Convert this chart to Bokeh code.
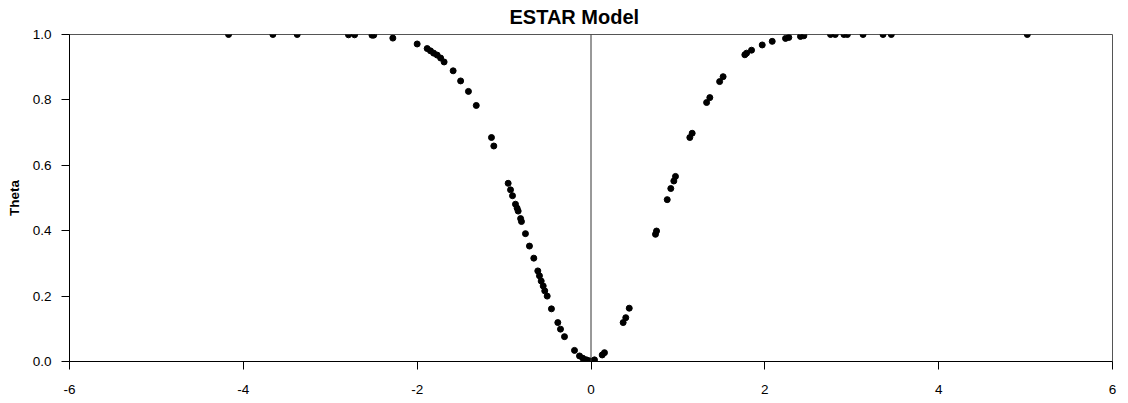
from bokeh.plotting import figure
from bokeh.models import Range1d, Span, FixedTicker, ColumnDataSource, CustomJSTickFormatter
from bokeh.embed import file_html
from bokeh.resources import INLINE

# Data (transition variable vs. Theta)
x_vals = [-4.17, -3.66, -3.38, -2.79, -2.72, -2.52, -2.50, -2.28, -2.00, -1.885,
          -1.847, -1.81, -1.77, -1.73, -1.69, -1.586, -1.50, -1.41, -1.32, -1.145,
          -1.118, -0.953, -0.926, -0.903, -0.869, -0.85, -0.838, -0.81, -0.80, -0.754,
          -0.708, -0.658, -0.612, -0.593, -0.573, -0.55, -0.532, -0.504, -0.455, -0.382,
          -0.351, -0.305, -0.19, -0.132, -0.094, -0.052, -0.017, 0.04, 0.129, 0.155,
          0.37, 0.40, 0.44, 0.742, 0.754, 0.877, 0.918, 0.953, 0.972, 1.137,
          1.164, 1.33, 1.367, 1.48, 1.52, 1.77, 1.79, 1.847, 1.97, 2.085,
          2.238, 2.276, 2.41, 2.449, 2.756, 2.81, 2.91, 2.95, 3.13, 3.36,
          3.455, 5.02]
theta_vals = [1.0, 1.0, 1.0, 0.999, 0.999, 0.998, 0.998, 0.989, 0.971, 0.957,
              0.950, 0.943, 0.937, 0.928, 0.916, 0.889, 0.858, 0.826, 0.783, 0.685,
              0.659, 0.545, 0.525, 0.507, 0.481, 0.469, 0.460, 0.437, 0.428, 0.391,
              0.353, 0.316, 0.277, 0.262, 0.246, 0.231, 0.216, 0.200, 0.161, 0.119,
              0.099, 0.076, 0.034, 0.017, 0.010, 0.005, 0.002, 0.005, 0.020, 0.027,
              0.119, 0.134, 0.163, 0.389, 0.399, 0.495, 0.529, 0.552, 0.566, 0.685,
              0.698, 0.792, 0.807, 0.856, 0.871, 0.938, 0.943, 0.952, 0.968, 0.979,
              0.988, 0.991, 0.994, 0.996, 1.0, 1.0, 1.0, 1.0, 1.0, 1.0,
              1.0, 1.0]
x_ticks = [-6, -4, -2, 0, 2, 4, 6]
y_ticks = [0.0, 0.2, 0.4, 0.6, 0.8, 1.0]

FONT = "Liberation Sans"

p = figure(width=1128, height=403, output_backend="svg", toolbar_location=None,
           x_range=Range1d(-6, 6), y_range=Range1d(0, 1),
           min_border_left=69, min_border_right=16, min_border_top=34,
           min_border_bottom=42)
p.title.text = "ESTAR Model"
p.title.align = "left"
p.title.vertical_align = "top"
p.title.text_font = FONT
p.title.text_font_size = "20px"
p.title.text_font_style = "bold"
p.title.text_color = "black"
p.title.offset = 440
p.title.standoff = 10

p.xgrid.visible = False
p.ygrid.visible = False
p.outline_line_color = "#555555"
p.outline_line_width = 1
p.background_fill_color = "white"
p.border_fill_color = "white"

src = ColumnDataSource(dict(x=x_vals, y=theta_vals))
p.scatter("x", "y", source=src, size=6, color="black")

p.add_layout(Span(location=0, dimension="height", line_color="#333333", line_width=1))

for ax in (p.xaxis[0], p.yaxis[0]):
    ax.axis_line_color = "black"
    ax.major_tick_line_color = "black"
    ax.minor_tick_line_color = None
    ax.major_tick_out = 8
    ax.major_tick_in = 0
    ax.major_label_text_font = FONT
    ax.major_label_text_font_size = "13.5px"
    ax.major_label_text_color = "black"

p.xaxis.ticker = FixedTicker(ticks=x_ticks)
p.yaxis.ticker = FixedTicker(ticks=y_ticks)
p.xaxis.formatter = CustomJSTickFormatter(code="return String(tick);")
p.yaxis.formatter = CustomJSTickFormatter(code="return tick.toFixed(1);")
p.xaxis.major_label_standoff = 15
p.yaxis.major_label_standoff = 10

p.yaxis.axis_label = "Theta"
p.yaxis.axis_label_text_font = FONT
p.yaxis.axis_label_text_font_size = "13.5px"
p.yaxis.axis_label_text_font_style = "bold"
p.yaxis.axis_label_text_color = "black"
p.yaxis.axis_label_standoff = 8

open("out.html", "w").write(file_html(p, INLINE))
